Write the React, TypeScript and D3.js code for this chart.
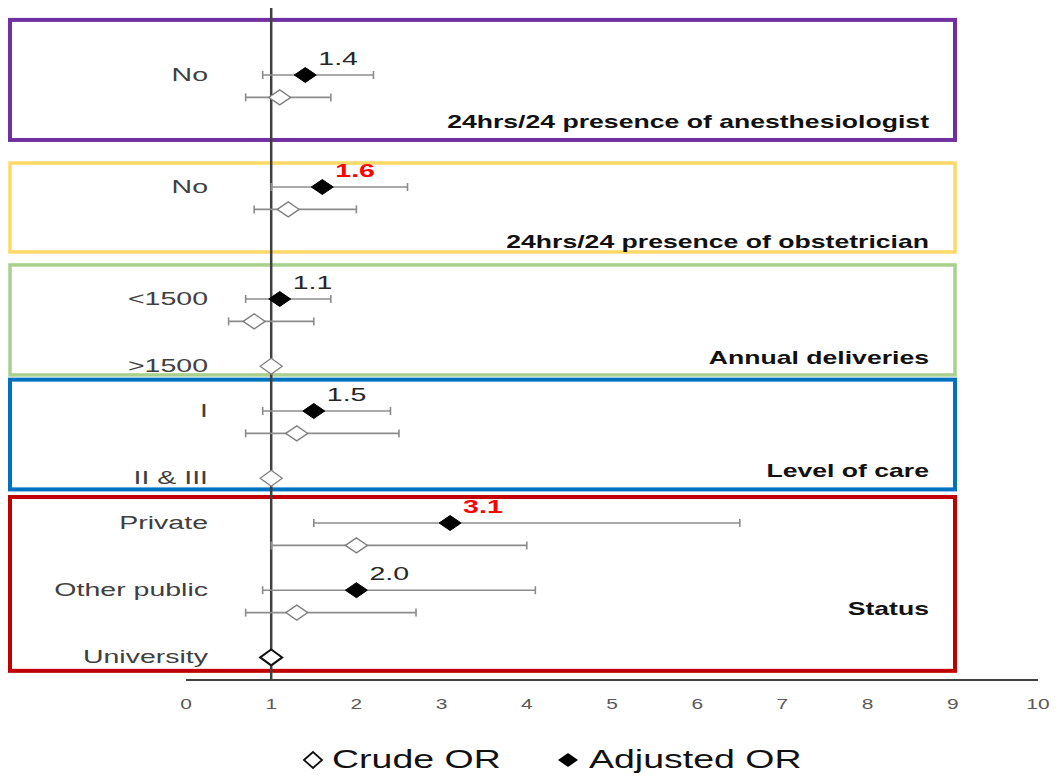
import React from "react";
import * as d3 from "d3";

// ---------- data ----------
const groupTitles = [
  "24hrs/24 presence of anesthesiologist",
  "24hrs/24 presence of obstetrician",
  "Annual deliveries",
  "Level of care",
  "Status",
];
const levelLabels: (string | null)[] = ["No", null, "No", null, "<1500", ">1500", "I", "II & III", "Private", "Other public", "University"];
const levelGroup = [0, 0, 1, 1, 2, 2, 3, 3, 4, 4, 4];
const adjustedOR: (number | null)[] = [1.4, null, 1.6, null, 1.1, null, 1.5, null, 3.1, 2.0, null];
const adjustedLow: (number | null)[] = [0.9, null, 1.0, null, 0.7, null, 0.9, null, 1.5, 0.9, null];
const adjustedHigh: (number | null)[] = [2.2, null, 2.6, null, 1.7, null, 2.4, null, 6.5, 4.1, null];
const crudeOR: (number | null)[] = [1.1, null, 1.2, null, 0.8, 1, 1.3, 1, 2.0, 1.3, 1];
const crudeLow: (number | null)[] = [0.7, null, 0.8, null, 0.5, null, 0.7, null, 1.0, 0.7, null];
const crudeHigh: (number | null)[] = [1.7, null, 2.0, null, 1.5, null, 2.5, null, 4.0, 2.7, null];
const significant = [false, false, true, false, false, false, false, false, true, false, false];
const xTicks = [0, 1, 2, 3, 4, 5, 6, 7, 8, 9, 10];
const legendLabels = ["Crude OR", "Adjusted OR"];

// ---------- layout ----------
const W = 1060;
const H = 776;
const boxColors = ["#7030A0", "#FFD966", "#A9D18E", "#0070C0", "#C00000"];
const boxStrokeW = [4, 3.5, 3.5, 4, 4];
const boxSlots: [number, number][] = [[-2.46, 2.9], [3.93, 7.9], [8.48, 13.39], [13.6, 18.5], [18.84, 26.6]];
const titleSlots = [2.37, 7.72, 12.9, 17.95, 24.1];
const FONT = "'Liberation Sans', Arial, sans-serif";

// slot positions for each level
const slots: number[] = [];
{
  let s = 0;
  levelLabels.forEach((_, i) => {
    slots.push(s);
    s += adjustedOR[i] !== null ? 3 : 2;
  });
}

const x = d3.scaleLinear().domain([0, 10]).range([186, 1038]);
const y = d3.scaleLinear().domain([0, 26]).range([75, 75 + 26 * 22.4]);

const diamond = (cx: number, cy: number, hw: number, hh: number) =>
  `M${cx - hw},${cy}L${cx},${cy - hh}L${cx + hw},${cy}L${cx},${cy + hh}Z`;

// text that is stretched horizontally like the reference picture
function T({ x: tx, y: ty, sx, children, ...rest }: any) {
  return (
    <text transform={`translate(${tx},${ty}) scale(${sx},1)`} {...rest}>
      {children}
    </text>
  );
}

function ErrBar({ lo, hi, cy }: { lo: number; hi: number; cy: number }) {
  const x0 = x(lo), x1 = x(hi);
  return (
    <g stroke="#8c8c8c" strokeWidth={1.6}>
      <line x1={x0} x2={x1} y1={cy} y2={cy} />
      <line x1={x0} x2={x0} y1={cy - 4} y2={cy + 4} />
      <line x1={x1} x2={x1} y1={cy - 4} y2={cy + 4} />
    </g>
  );
}

export default function App() {
  const axisY = 680;
  return (
    <svg width={W} height={H} style={{ position: "absolute", left: 0, top: 0, background: "#fff" }} fontFamily={FONT}>
      <rect width={W} height={H} fill="#fff" />
      {/* group boxes */}
      {groupTitles.map((t, g) => (
        <rect
          key={"box" + g}
          x={10}
          y={y(boxSlots[g][0])}
          width={945}
          height={y(boxSlots[g][1]) - y(boxSlots[g][0])}
          fill="none"
          stroke={boxColors[g]}
          strokeWidth={boxStrokeW[g]}
        />
      ))}
      {/* group titles */}
      {groupTitles.map((t, g) => (
        <T key={"t" + g} x={929} y={y(titleSlots[g])} sx={1.4} textAnchor="end" fontSize={19} fontWeight="bold" fill="#111">
          {t}
        </T>
      ))}
      {/* reference line at OR = 1 */}
      <line x1={x(1)} x2={x(1)} y1={8} y2={axisY} stroke="#404040" strokeWidth={2.5} />
      {/* x axis */}
      <line x1={x(0)} x2={x(10)} y1={axisY} y2={axisY} stroke="#404040" strokeWidth={2} />
      {xTicks.map((t) => (
        <T key={"xt" + t} x={x(t)} y={709} sx={1.35} textAnchor="middle" fontSize={15.5} fill="#595959">
          {t}
        </T>
      ))}
      {/* rows */}
      {levelLabels.map((lab, i) => {
        const s = slots[i];
        const adj = adjustedOR[i];
        const cr = crudeOR[i];
        const isRef = adj === null;
        const crudeY = isRef ? y(s) : y(s + 1);
        const isLastRef = isRef && i === levelLabels.length - 1;
        return (
          <g key={"row" + i}>
            {lab !== null && (
              <T x={208} y={y(s) + 1} sx={1.5} textAnchor="end" dominantBaseline="middle" fontSize={19} fill="#404040">
                {lab}
              </T>
            )}
            {adj !== null && adjustedLow[i] !== null && (
              <ErrBar lo={adjustedLow[i] as number} hi={adjustedHigh[i] as number} cy={y(s)} />
            )}
            {cr !== null && crudeLow[i] !== null && (
              <ErrBar lo={crudeLow[i] as number} hi={crudeHigh[i] as number} cy={crudeY} />
            )}
            {cr !== null && (
              <path
                d={diamond(x(cr), crudeY, 11, isRef ? 8 : 7.5)}
                fill="#fff"
                stroke={isLastRef ? "#111" : "#7f7f7f"}
                strokeWidth={isLastRef ? 2 : 1.3}
              />
            )}
            {adj !== null && (
              <>
                <path d={diamond(x(adj), y(s), 11, 7.5)} fill="#000" stroke="#000" strokeWidth={1} />
                <T
                  x={x(adj) + 13}
                  y={y(s) - 15}
                  sx={1.5}
                  dominantBaseline="middle"
                  fontSize={19}
                  fontWeight={significant[i] ? "bold" : "normal"}
                  fill={significant[i] ? "#FF0000" : "#262626"}
                >
                  {adj.toFixed(1)}
                </T>
              </>
            )}
          </g>
        );
      })}
      {/* legend */}
      <path d={diamond(313, 760, 9, 8)} fill="#fff" stroke="#111" strokeWidth={1.8} />
      <T x={332} y={761} sx={1.5} dominantBaseline="middle" fontSize={25} fill="#111">
        {legendLabels[0]}
      </T>
      <path d={diamond(568, 760, 10, 7)} fill="#000" />
      <T x={589} y={761} sx={1.5} dominantBaseline="middle" fontSize={25} fill="#111">
        {legendLabels[1]}
      </T>
    </svg>
  );
}
